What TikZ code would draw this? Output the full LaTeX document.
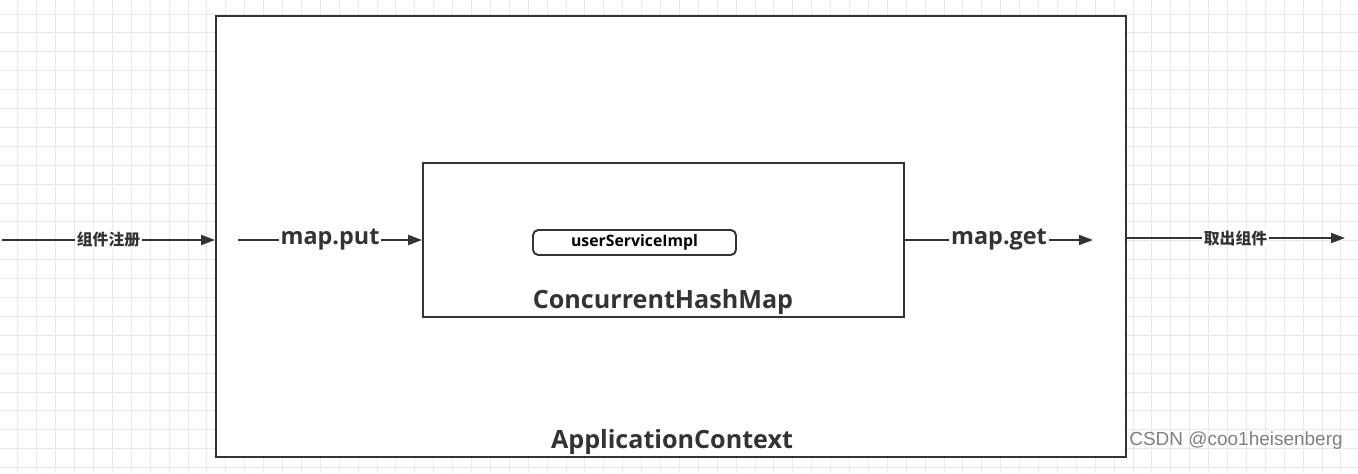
\documentclass[tikz,border=0pt]{standalone}
\usepackage{fontspec}
\setmainfont{Open Sans}
\newfontfamily\cjk{Noto Sans CJK SC}
\newfontfamily\wmfont{Liberation Sans}
\usepackage{xcolor}
\usetikzlibrary{arrows.meta,positioning}

\definecolor{ink}{HTML}{333333}
\definecolor{gridc}{HTML}{E9E9E9}

\begin{document}
\begin{tikzpicture}[
    x=0.02cm, y=-0.02cm,
    frame/.style={draw=ink, line width=1.2pt, fill=white, inner sep=0pt},
    bean/.style={draw=ink, line width=1.1pt, rounded corners=3pt, minimum width=4.06cm, minimum height=0.5cm, inner sep=0pt, font=\fontsize{9}{10}\selectfont\bfseries},
    title/.style={text=ink, inner sep=1pt, font=\fontsize{14.3}{16}\selectfont\bfseries},
    lbl/.style={fill=white, text=ink, inner sep=1pt, font=\fontsize{13.3}{15}\selectfont\bfseries},
    cnlbl/.style={fill=white, text=ink, inner sep=1pt, font=\cjk\fontsize{9}{10}\selectfont\bfseries},
    arr/.style={-{Triangle[length=0.28cm, width=0.2cm]}, draw=ink, line width=1.1pt}
]
\useasboundingbox (0,0) rectangle (1358,473);
% grid
\foreach \i in {0,...,72} {
  \draw[gridc, line width=0.5pt] (\i*18.9-1,0) -- (\i*18.9-1,473);
}
\foreach \j in {0,...,25} {
  \draw[gridc, line width=0.5pt] (0,\j*18.9+14) -- (1358,\j*18.9+14);
}

% boxes
\node[frame, minimum width=18.2cm, minimum height=8.82cm] (ctx) at (671,236.5) {};
\node[frame, minimum width=9.62cm, minimum height=3.08cm] (map) at (663.5,240) {};
\node[bean] (impl) at (634.5,242.5) {userServiceImpl};
\node[title] (mapname) at (663,302) {ConcurrentHashMap};
\node[title] (ctxname) at (672,442) {ApplicationContext};

% arrows
\coordinate (src) at (2,240);
\coordinate (putstart) at (238,240);
\coordinate (getend) at (1093,240);
\coordinate (outstart) at (1126,238);
\coordinate (dst) at (1345,238);

\draw[arr] (src) -- node[cnlbl] {组件注册} (ctx.west |- src);
\draw[arr] (putstart) -- node[lbl] {map.put} (map.west |- putstart);
\draw[arr] (map.east |- getend) -- node[lbl] {map.get} (getend);
\draw[arr] (outstart) -- node[cnlbl] {取出组件} (dst);

\node[anchor=west, text=gray, inner sep=0pt, font=\wmfont\fontsize{10.8}{12}\selectfont] (mark) at (1129,441) {CSDN @coo1heisenberg};
\end{tikzpicture}
\end{document}
